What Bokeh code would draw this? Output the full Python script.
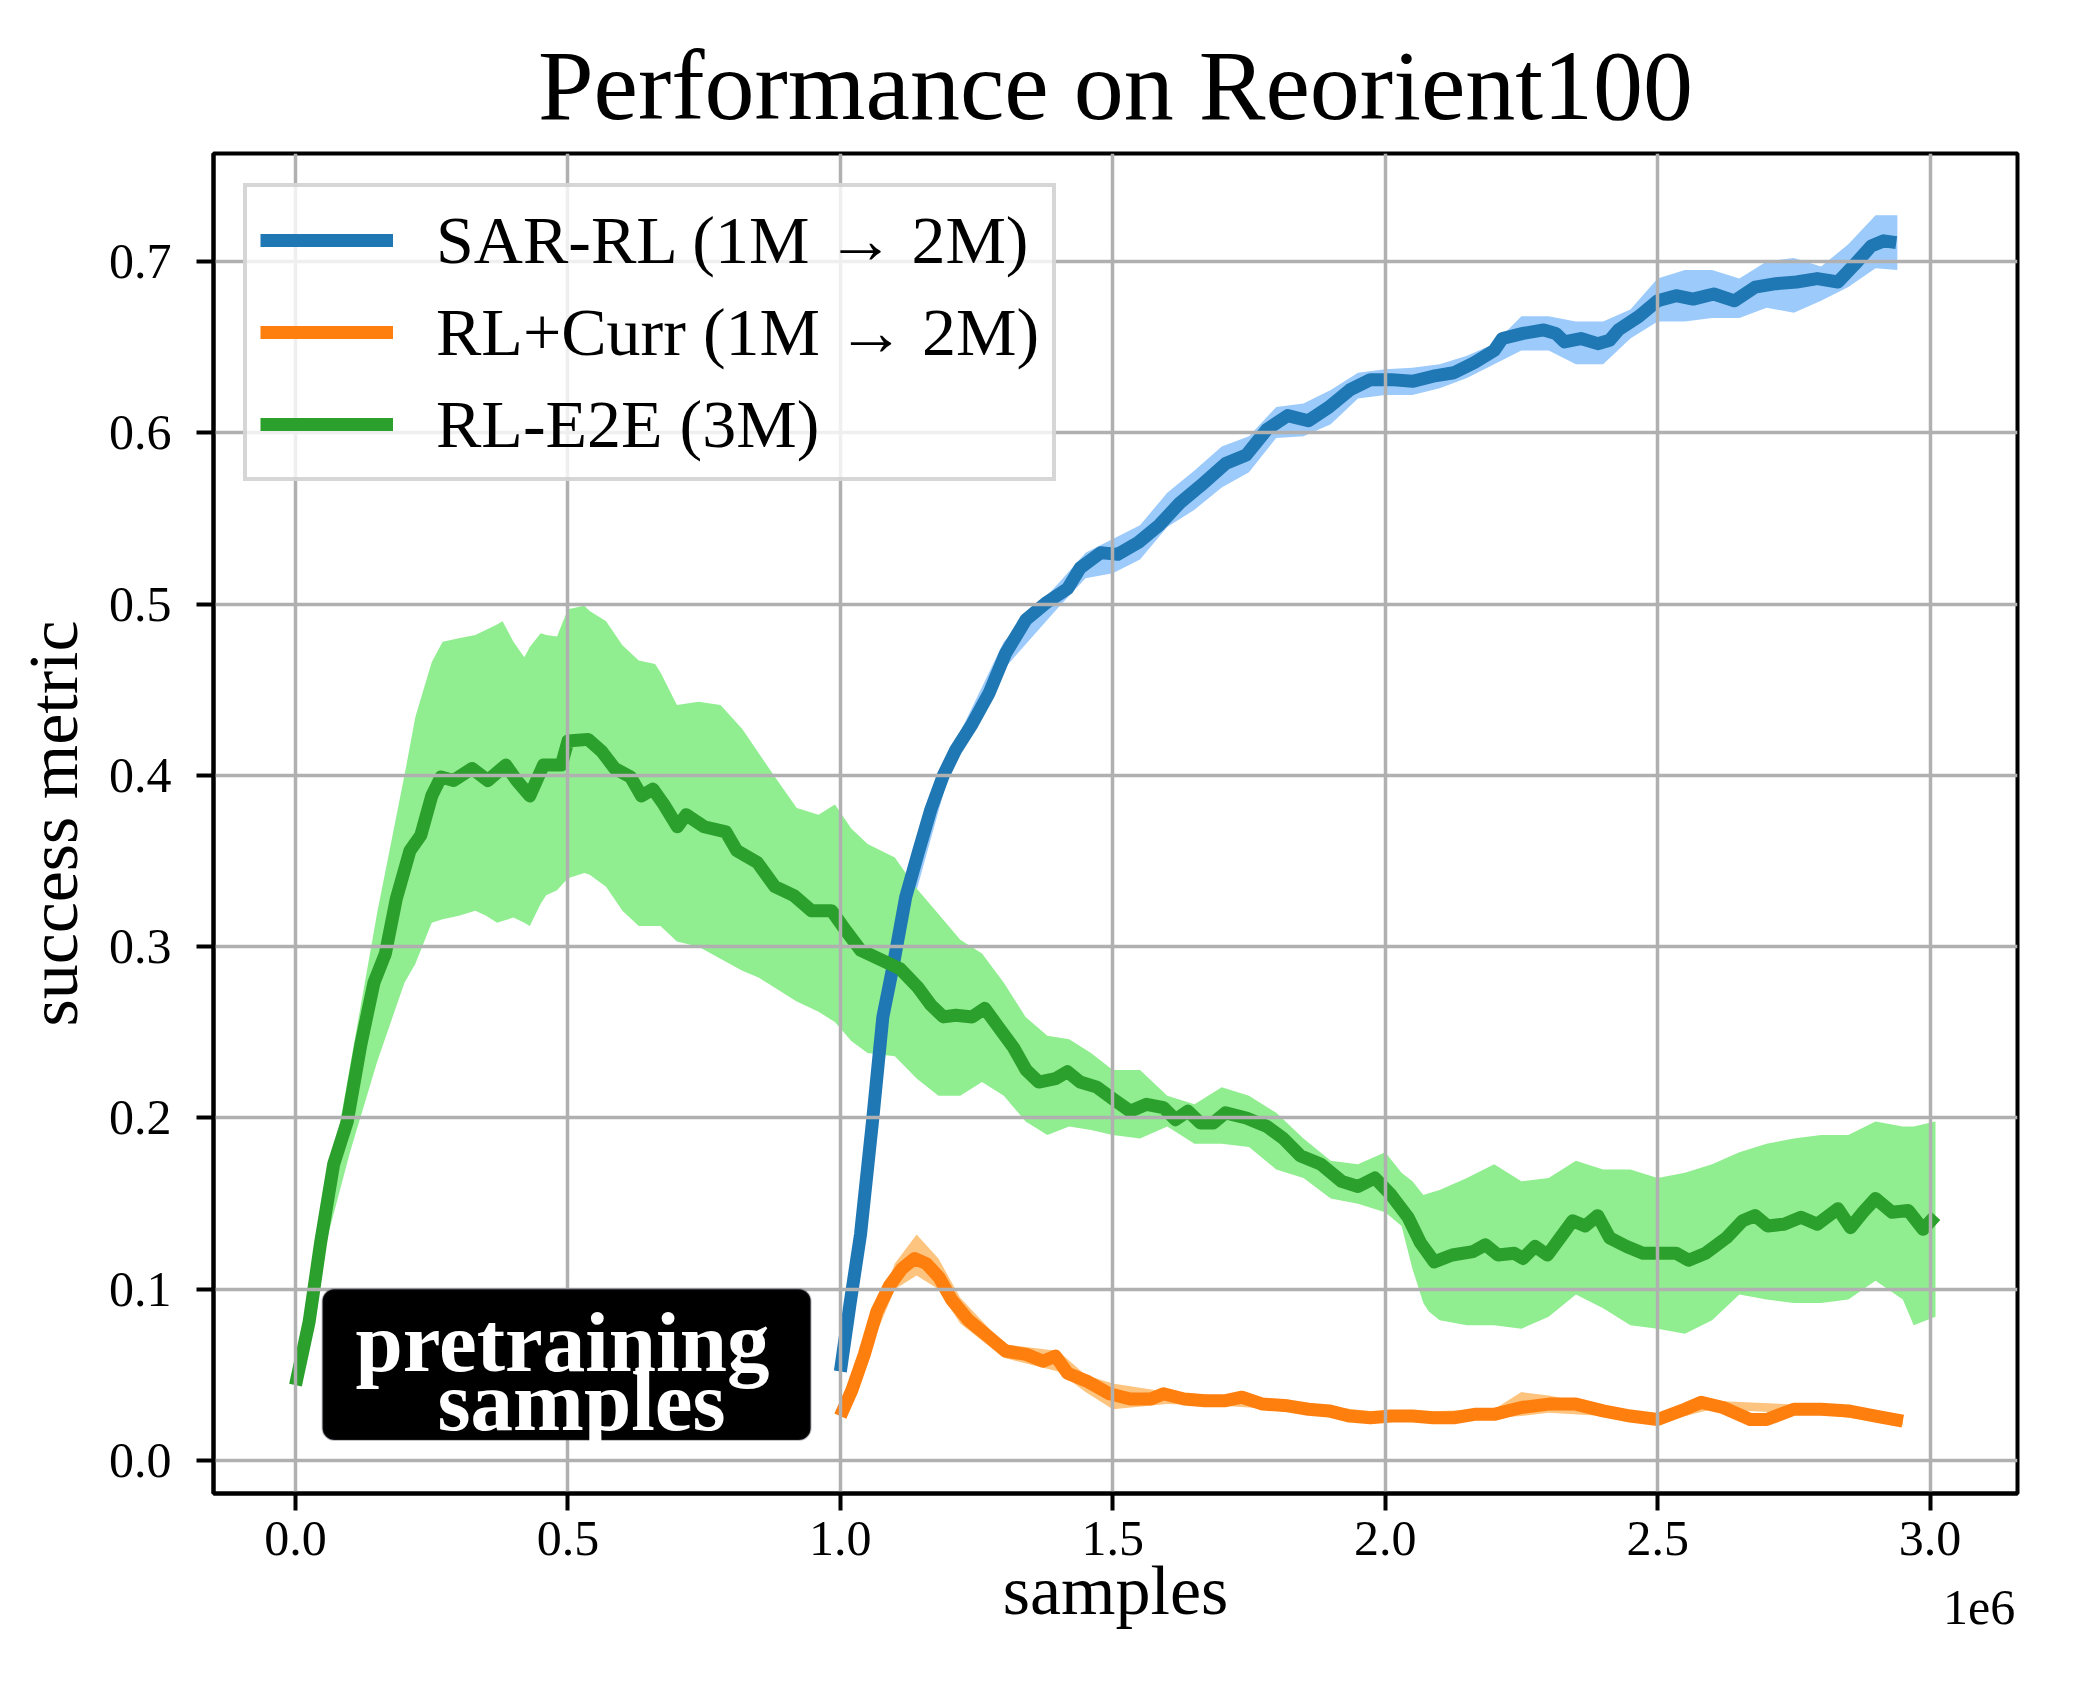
import numpy as np
from bokeh.plotting import figure
from bokeh.models import (Range1d, FixedTicker, CustomJSTickFormatter, NumeralTickFormatter,
                          Label, BoxAnnotation, LinearAxis)
from bokeh.embed import file_html
from bokeh.resources import INLINE

# ---------------- data (x in millions of samples) ----------------
green_x = [0.0, 0.025, 0.046, 0.07, 0.095, 0.12, 0.144, 0.165, 0.185, 0.21, 0.23, 0.25, 0.267, 0.29,
           0.324, 0.353, 0.386, 0.406, 0.43, 0.455, 0.488, 0.5, 0.537, 0.562, 0.586, 0.615, 0.635,
           0.656, 0.676, 0.701, 0.717, 0.75, 0.79, 0.81, 0.848, 0.88, 0.914, 0.947, 0.984, 1.004,
           1.037, 1.07, 1.11, 1.143, 1.166, 1.189, 1.212, 1.242, 1.265, 1.288, 1.318, 1.341, 1.364,
           1.395, 1.417, 1.44, 1.471, 1.501, 1.532, 1.562, 1.593, 1.615, 1.638, 1.661, 1.684, 1.707,
           1.745, 1.783, 1.813, 1.844, 1.882, 1.92, 1.95, 1.981, 2.011, 2.042, 2.065, 2.09, 2.123,
           2.161, 2.184, 2.207, 2.237, 2.253, 2.275, 2.298, 2.321, 2.344, 2.367, 2.39, 2.412, 2.443,
           2.473, 2.504, 2.534, 2.557, 2.588, 2.626, 2.656, 2.679, 2.702, 2.732, 2.763, 2.793, 2.831,
           2.854, 2.877, 2.9, 2.93, 2.96, 2.987, 3.01]
green_y = [0.044, 0.081, 0.127, 0.173, 0.198, 0.243, 0.279, 0.296, 0.328, 0.356, 0.365, 0.388, 0.399,
           0.397, 0.404, 0.397, 0.406, 0.397, 0.388, 0.406, 0.406, 0.42, 0.421, 0.414, 0.404, 0.399,
           0.388, 0.392, 0.383, 0.370, 0.377, 0.370, 0.367, 0.356, 0.349, 0.335, 0.330, 0.321, 0.321,
           0.312, 0.298, 0.293, 0.287, 0.276, 0.266, 0.259, 0.26, 0.259, 0.264, 0.254, 0.241, 0.228,
           0.221, 0.223, 0.227, 0.221, 0.218, 0.211, 0.204, 0.208, 0.206, 0.199, 0.204, 0.197, 0.197,
           0.203, 0.200, 0.195, 0.188, 0.178, 0.173, 0.163, 0.160, 0.165, 0.155, 0.142, 0.127, 0.116,
           0.12, 0.122, 0.126, 0.12, 0.121, 0.118, 0.125, 0.12, 0.13, 0.14, 0.137, 0.143, 0.13, 0.125,
           0.121, 0.121, 0.121, 0.117, 0.121, 0.13, 0.14, 0.143, 0.137, 0.138, 0.142, 0.138, 0.147,
           0.136, 0.145, 0.153, 0.145, 0.146, 0.135, 0.143]

green_band_x = [0.0, 0.05, 0.1, 0.15, 0.2, 0.22, 0.25, 0.27, 0.3, 0.33, 0.35, 0.37, 0.38, 0.4, 0.42,
                0.43, 0.45, 0.46, 0.48, 0.5, 0.53, 0.54, 0.57, 0.6, 0.63, 0.66, 0.67, 0.7, 0.74, 0.78,
                0.82, 0.85, 0.88, 0.9, 0.92, 0.96, 0.99, 1.02, 1.05, 1.1, 1.14, 1.18, 1.22, 1.26, 1.3,
                1.34, 1.38, 1.42, 1.46, 1.5, 1.55, 1.6, 1.65, 1.7, 1.75, 1.8, 1.85, 1.9, 1.95, 2.0,
                2.03, 2.05, 2.07, 2.08, 2.1, 2.15, 2.2, 2.25, 2.3, 2.35, 2.4, 2.45, 2.5, 2.55, 2.6,
                2.65, 2.7, 2.75, 2.8, 2.85, 2.9, 2.95, 2.97, 3.01]
green_lo = [0.044, 0.12, 0.18, 0.233, 0.279, 0.29, 0.314, 0.316, 0.318, 0.321, 0.318, 0.314, 0.315,
            0.317, 0.314, 0.312, 0.325, 0.33, 0.333, 0.34, 0.343, 0.342, 0.335, 0.321, 0.312, 0.312,
            0.312, 0.303, 0.300, 0.293, 0.286, 0.282, 0.276, 0.272, 0.268, 0.262, 0.256, 0.245,
            0.238, 0.236, 0.223, 0.213, 0.213, 0.221, 0.213, 0.198, 0.19, 0.195, 0.193, 0.19, 0.188,
            0.195, 0.185, 0.185, 0.183, 0.17, 0.165, 0.153, 0.15, 0.145, 0.137, 0.112, 0.092, 0.087,
            0.082, 0.079, 0.079, 0.077, 0.084, 0.097, 0.089, 0.079, 0.077, 0.074, 0.082, 0.097,
            0.094, 0.092, 0.092, 0.094, 0.105, 0.094, 0.079, 0.084]
green_hi = [0.044, 0.14, 0.23, 0.32, 0.40, 0.434, 0.466, 0.478, 0.48, 0.482, 0.485, 0.488, 0.49,
            0.478, 0.469, 0.475, 0.483, 0.482, 0.481, 0.497, 0.499, 0.496, 0.49, 0.476, 0.467, 0.465,
            0.46, 0.441, 0.443, 0.441, 0.427, 0.413, 0.399, 0.39, 0.381, 0.377, 0.383, 0.369, 0.36,
            0.352, 0.334, 0.319, 0.304, 0.296, 0.279, 0.259, 0.248, 0.246, 0.238, 0.228, 0.228,
            0.213, 0.208, 0.218, 0.213, 0.203, 0.188, 0.175, 0.173, 0.18, 0.168, 0.163, 0.155, 0.156,
            0.158, 0.165, 0.173, 0.163, 0.165, 0.175, 0.17, 0.17, 0.165, 0.168, 0.173, 0.18, 0.185,
            0.188, 0.19, 0.19, 0.198, 0.195, 0.195, 0.198]

blue_x = [1.0, 1.018, 1.037, 1.059, 1.078, 1.097, 1.12, 1.143, 1.166, 1.189, 1.212, 1.242, 1.273,
          1.303, 1.341, 1.379, 1.417, 1.44, 1.478, 1.509, 1.547, 1.585, 1.623, 1.661, 1.707, 1.745,
          1.783, 1.821, 1.859, 1.897, 1.935, 1.973, 2.011, 2.05, 2.088, 2.126, 2.164, 2.2, 2.215,
          2.253, 2.291, 2.313, 2.329, 2.359, 2.39, 2.412, 2.428, 2.466, 2.5, 2.534, 2.565, 2.603,
          2.641, 2.679, 2.717, 2.755, 2.793, 2.831, 2.861, 2.892, 2.915, 2.938]
blue_y = [0.052, 0.092, 0.132, 0.198, 0.259, 0.289, 0.329, 0.355, 0.38, 0.40, 0.415, 0.430, 0.448,
          0.471, 0.491, 0.501, 0.509, 0.521, 0.53, 0.529, 0.536, 0.546, 0.559, 0.569, 0.582, 0.587,
          0.602, 0.61, 0.607, 0.615, 0.625, 0.631, 0.631, 0.63, 0.633, 0.635, 0.641, 0.648, 0.655,
          0.658, 0.66, 0.658, 0.653, 0.655, 0.652, 0.654, 0.66, 0.668, 0.677, 0.68, 0.678, 0.681,
          0.677, 0.685, 0.687, 0.688, 0.69, 0.688, 0.698, 0.709, 0.712, 0.711]

blue_band_x = [1.0, 1.1, 1.2, 1.3, 1.4, 1.45, 1.5, 1.55, 1.6, 1.65, 1.7, 1.75, 1.8, 1.85, 1.9, 1.95,
               2.0, 2.05, 2.1, 2.15, 2.2, 2.25, 2.3, 2.35, 2.4, 2.45, 2.5, 2.55, 2.6, 2.65, 2.7,
               2.75, 2.8, 2.85, 2.9, 2.94]
blue_lo = [0.05, 0.287, 0.402, 0.462, 0.498, 0.515, 0.518, 0.526, 0.545, 0.555, 0.568, 0.577, 0.597,
           0.598, 0.605, 0.62, 0.622, 0.622, 0.626, 0.632, 0.64, 0.648, 0.648, 0.64, 0.64, 0.655,
           0.665, 0.665, 0.667, 0.667, 0.673, 0.67, 0.677, 0.685, 0.696, 0.695]
blue_hi = [0.054, 0.293, 0.412, 0.478, 0.512, 0.53, 0.538, 0.546, 0.565, 0.578, 0.592, 0.598, 0.615,
           0.617, 0.625, 0.635, 0.637, 0.638, 0.64, 0.645, 0.652, 0.668, 0.668, 0.665, 0.665, 0.672,
           0.69, 0.695, 0.695, 0.69, 0.70, 0.702, 0.697, 0.71, 0.727, 0.727]

orange_x = [1.0, 1.021, 1.044, 1.067, 1.09, 1.113, 1.136, 1.158, 1.181, 1.204, 1.235, 1.273, 1.303,
            1.341, 1.372, 1.395, 1.417, 1.455, 1.494, 1.532, 1.57, 1.593, 1.631, 1.669, 1.707, 1.737,
            1.775, 1.821, 1.859, 1.897, 1.935, 1.973, 2.011, 2.05, 2.088, 2.126, 2.164, 2.2, 2.25,
            2.3, 2.35, 2.4, 2.45, 2.5, 2.55, 2.58, 2.62, 2.67, 2.7, 2.75, 2.8, 2.85, 2.9, 2.95]
orange_y = [0.026, 0.041, 0.062, 0.087, 0.102, 0.112, 0.118, 0.115, 0.107, 0.094, 0.082, 0.072, 0.064,
            0.062, 0.058, 0.061, 0.051, 0.046, 0.039, 0.036, 0.036, 0.039, 0.036, 0.035, 0.035, 0.037,
            0.033, 0.032, 0.030, 0.029, 0.026, 0.025, 0.026, 0.026, 0.025, 0.025, 0.027, 0.027, 0.031,
            0.033, 0.033, 0.029, 0.026, 0.024, 0.030, 0.034, 0.031, 0.024, 0.024, 0.030, 0.030, 0.029,
            0.026, 0.023]

orange_band_x = [1.0, 1.05, 1.1, 1.14, 1.18, 1.22, 1.3, 1.4, 1.45, 1.5, 1.6, 1.7, 1.8, 2.0, 2.2, 2.25,
                 2.3, 2.4, 2.5, 2.6, 2.8, 2.95]
orange_lo = [0.024, 0.062, 0.10, 0.108, 0.10, 0.08, 0.06, 0.052, 0.04, 0.03, 0.033, 0.032, 0.03, 0.023,
             0.025, 0.026, 0.028, 0.026, 0.022, 0.03, 0.027, 0.021]
orange_hi = [0.028, 0.072, 0.115, 0.132, 0.118, 0.095, 0.068, 0.064, 0.05, 0.045, 0.04, 0.038, 0.035,
             0.028, 0.03, 0.04, 0.038, 0.032, 0.026, 0.035, 0.032, 0.025]

labels = ["SAR-RL (1M \u2192 2M)", "RL+Curr (1M \u2192 2M)", "RL-E2E (3M)"]
x_ticks = [0.0, 0.5, 1.0, 1.5, 2.0, 2.5, 3.0]
y_ticks = [0.0, 0.1, 0.2, 0.3, 0.4, 0.5, 0.6, 0.7]
offset_text = "1e6"
box_lines = ["pretraining", "samples"]

SCALE = 1e6
FONT = "Liberation Serif"

def sc(a):
    return [v * SCALE for v in a]

p = figure(frame_width=1804, frame_height=1340,
           min_border_left=213, min_border_right=43, min_border_top=153, min_border_bottom=173,
           x_range=Range1d(-0.1505 * SCALE, 3.1605 * SCALE), y_range=Range1d(-0.0192, 0.763),
           output_backend="svg", toolbar_location=None,
           title="Performance on Reorient100", x_axis_label="samples", y_axis_label="success metric")

p.background_fill_color = "white"
p.border_fill_color = "white"
p.outline_line_color = "black"
p.outline_line_width = 4

p.title.align = "center"
p.title.text_font = FONT
p.title.text_font_size = "100px"
p.title.text_font_style = "normal"
p.title.text_color = "black"
p.title.standoff = 26

for ax in (p.xaxis[0], p.yaxis[0]):
    ax.axis_label_text_font = FONT
    ax.axis_label_text_font_size = "70px"
    ax.axis_label_text_font_style = "normal"
    ax.axis_label_text_color = "black"
    ax.major_label_text_font = FONT
    ax.major_label_text_font_size = "50px"
    ax.major_label_text_color = "black"
    ax.axis_line_width = 4
    ax.axis_line_color = "black"
    ax.major_tick_line_width = 4
    ax.major_tick_line_color = "black"
    ax.major_tick_out = 17
    ax.major_tick_in = 0
    ax.minor_tick_out = 0
    ax.minor_tick_in = 0

p.xaxis.ticker = FixedTicker(ticks=sc(x_ticks))
p.xaxis.formatter = CustomJSTickFormatter(code="return (tick / 1e6).toFixed(1);")
p.xaxis.major_label_standoff = 11
p.xaxis.axis_label_standoff = -6
p.yaxis.ticker = FixedTicker(ticks=y_ticks)
p.yaxis.formatter = NumeralTickFormatter(format="0.0")
p.yaxis.major_label_standoff = 25
p.yaxis.axis_label_standoff = 14

# offset text "1e6" shown by an extra, line-less axis below the main one
off_axis = LinearAxis(ticker=FixedTicker(ticks=[3.09 * SCALE]),
                      formatter=CustomJSTickFormatter(code="return '%s';" % offset_text))
off_axis.axis_line_color = None
off_axis.major_tick_line_color = None
off_axis.major_tick_out = 0
off_axis.major_tick_in = 0
off_axis.minor_tick_out = 0
off_axis.minor_tick_in = 0
off_axis.major_label_text_font = FONT
off_axis.major_label_text_font_size = "50px"
off_axis.major_label_text_color = "black"
off_axis.major_label_standoff = -41
p.add_layout(off_axis, "below")

for g in (p.xgrid[0], p.ygrid[0]):
    g.grid_line_color = "#b0b0b0"
    g.grid_line_width = 3.5
    g.level = "glyph"

# bands (below the grid)
bb = p.varea(x=sc(blue_band_x), y1=blue_lo, y2=blue_hi, fill_color="#9ccbfb", fill_alpha=1.0)
ob = p.varea(x=sc(orange_band_x), y1=orange_lo, y2=orange_hi, fill_color="#fdc47f", fill_alpha=1.0)
gb = p.varea(x=sc(green_band_x), y1=green_lo, y2=green_hi, fill_color="#90ee90", fill_alpha=1.0)
for r in (bb, ob, gb):
    r.level = "underlay"

LW = 13
p.line(sc(blue_x), blue_y, line_color="#1f77b4", line_width=LW, line_join="round", legend_label=labels[0])
p.line(sc(orange_x), orange_y, line_color="#ff7f0e", line_width=LW, line_join="round", legend_label=labels[1])
p.line(sc(green_x), green_y, line_color="#2ca02c", line_width=LW, line_join="round", legend_label=labels[2])

lg = p.legend[0]
lg.location = "top_left"
lg.margin = 30
lg.padding = 13
lg.spacing = 12
lg.label_height = 80
lg.glyph_height = 80
lg.glyph_width = 133
lg.label_standoff = 43
lg.label_text_font = FONT
lg.label_text_font_size = "68px"
lg.label_text_color = "black"
lg.background_fill_color = "white"
lg.background_fill_alpha = 0.8
lg.border_line_color = "#cccccc"
lg.border_line_width = 4
lg.border_line_alpha = 0.8

# "pretraining samples" box
box = BoxAnnotation(left=0.0496 * SCALE, right=0.9455 * SCALE, bottom=0.012, top=0.100,
                    fill_color="black", fill_alpha=1.0, line_color="#3a3a48", line_width=2,
                    border_radius=12)
p.add_layout(box)
p.add_layout(Label(x=0.49 * SCALE, y=0.069, text=box_lines[0], text_align="center",
                   text_baseline="middle", text_color="white", text_font=FONT,
                   text_font_style="bold", text_font_size="85px"))
p.add_layout(Label(x=0.525 * SCALE, y=0.035, text=box_lines[1], text_align="center",
                   text_baseline="middle", text_color="white", text_font=FONT,
                   text_font_style="bold", text_font_size="85px"))

open("out.html", "w").write(file_html(p, INLINE))
